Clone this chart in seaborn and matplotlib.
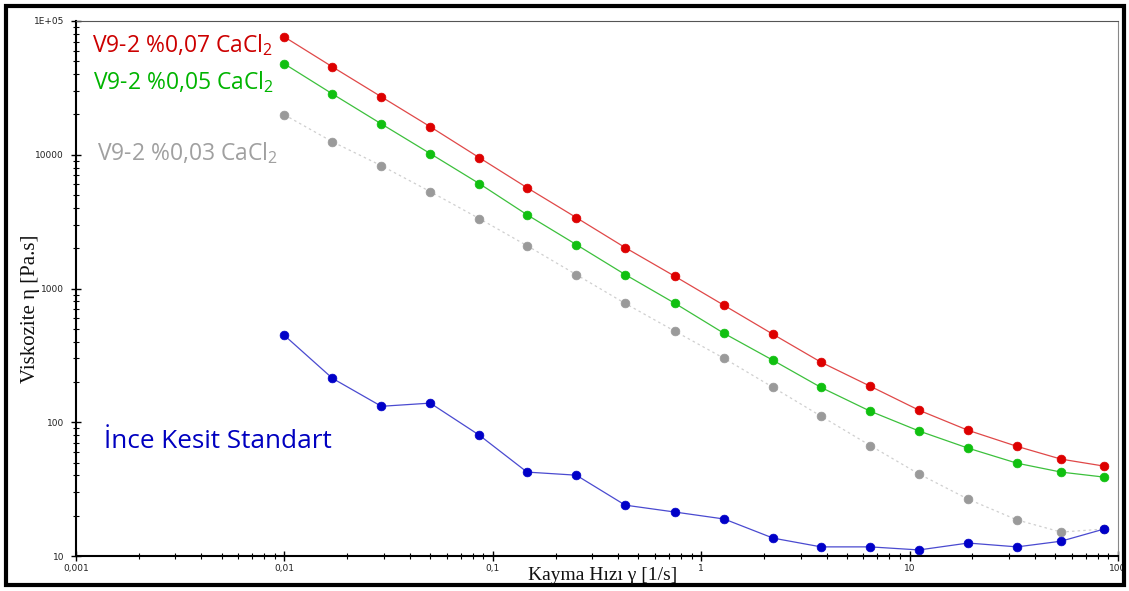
import numpy as np
import pandas as pd
import matplotlib
matplotlib.use("Agg")
import matplotlib.pyplot as plt
import seaborn as sns
from matplotlib.patches import Rectangle
from matplotlib.ticker import FixedLocator, FixedFormatter, NullFormatter

# ---- data ----
shear_rate = [0.01, 0.017, 0.0292, 0.0501, 0.0862, 0.146, 0.2515, 0.432, 0.75,
              1.29, 2.215, 3.76, 6.47, 11.1, 19.1, 32.8, 53.3, 85.7]
visc_007 = [76000, 45400, 27100, 16200, 9500, 5670, 3390, 2020, 1230,
            747, 454, 281, 186, 123, 87, 66, 53, 47]
visc_005 = [47800, 28500, 17000, 10200, 6080, 3560, 2130, 1270, 773,
            461, 290, 182, 121, 86, 64, 49.4, 42.4, 38.9]
visc_003 = [19900, 12500, 8280, 5300, 3330, 2090, 1270, 773, 478,
            300, 182, 111, 67, 41, 26.6, 18.6, 15.1, 15.9]
visc_std = [446, 213, 131.6, 139, 80, 42.4, 40.2, 24, 21.3,
            18.9, 13.6, 11.7, 11.7, 11.1, 12.5, 11.7, 12.9, 15.9]

series_names = ["V9-2 %0,07 CaCl2", "V9-2 %0,05 CaCl2", "V9-2 %0,03 CaCl2", "İnce Kesit Standart"]
x_ticks = [0.001, 0.01, 0.1, 1, 10, 100]
x_tick_labels = ["0,001", "0,01", "0,1", "1", "10", "100"]
y_ticks = [10, 100, 1000, 10000, 100000]
y_tick_labels = ["10", "100", "1000", "10000", "1E+05"]

df = pd.concat([
    pd.DataFrame({"x": shear_rate, "y": v, "series": n})
    for n, v in zip(series_names, [visc_007, visc_005, visc_003, visc_std])
])

sns.set_style("white")
plt.rcParams['font.family'] = ['DejaVu Sans']

W, H = 1129, 591
fig = plt.figure(figsize=(W / 100, H / 100), dpi=100)
L, R, T, B = 76, 1118, 21, 556
ax = fig.add_axes([L / W, 1 - B / H, (R - L) / W, (B - T) / H])

styles = {
    series_names[0]: dict(line="#e04848", mk="#dd0000", ls="-"),
    series_names[1]: dict(line="#3cc03c", mk="#10c010", ls="-"),
    series_names[2]: dict(line="#cfcfcf", mk="#9a9a9a", ls=(0, (2, 2.5))),
    series_names[3]: dict(line="#4a4ad0", mk="#0000c8", ls="-"),
}
for name in series_names:
    st = styles[name]
    sub = df[df["series"] == name]
    sns.lineplot(data=sub, x="x", y="y", ax=ax, color=st["line"], linewidth=0.9,
                 linestyle=st["ls"], marker="o", markersize=6.3,
                 markerfacecolor=st["mk"], markeredgecolor=st["mk"],
                 markeredgewidth=0.5, legend=False, sort=False, estimator=None)

ax.set_xscale("log")
ax.set_yscale("log")
ax.set_xlim(0.001, 100)
ax.set_ylim(10, 100000)

ax.xaxis.set_major_locator(FixedLocator(x_ticks))
ax.xaxis.set_major_formatter(FixedFormatter(x_tick_labels))
ax.yaxis.set_major_locator(FixedLocator(y_ticks))
ax.yaxis.set_major_formatter(FixedFormatter(y_tick_labels))
minor_x = [m * 10.0 ** e for e in range(-3, 2) for m in range(2, 10)]
minor_y = [m * 10.0 ** e for e in range(1, 5) for m in range(2, 10)]
ax.xaxis.set_minor_locator(FixedLocator(minor_x))
ax.yaxis.set_minor_locator(FixedLocator(minor_y))
ax.xaxis.set_minor_formatter(NullFormatter())
ax.yaxis.set_minor_formatter(NullFormatter())

ax.tick_params(axis="both", which="major", direction="inout", length=7, width=1.0,
               labelsize=6.5, labelcolor="#222222", color="black")
ax.tick_params(axis="both", which="minor", direction="inout", length=4, width=0.8, color="black")
ax.tick_params(axis="x", which="both", bottom=True, top=False, pad=2)
ax.tick_params(axis="y", which="both", left=True, right=False, pad=5)

ax.spines["left"].set_color("black")
ax.spines["left"].set_linewidth(1.5)
ax.spines["bottom"].set_color("black")
ax.spines["bottom"].set_linewidth(1.5)
ax.spines["top"].set_color("#555555")
ax.spines["top"].set_linewidth(0.8)
ax.spines["right"].set_color("#888888")
ax.spines["right"].set_linewidth(0.8)

ax.set_xlabel("")
ax.set_ylabel("")

serif = ["Liberation Serif", "DejaVu Serif"]
fig.text(31 / W, 1 - 309 / H, "Viskozite η [Pa.s]", rotation=90, ha="center", va="center",
         fontsize=15, family=serif, color="#111111")
fig.text(603 / W, 1 - 576 / H, "Kayma Hızı γ [1/s]", ha="center", va="center",
         fontsize=14, family=serif, color="#111111")

plt.rcParams['mathtext.fontset'] = 'custom'
plt.rcParams['mathtext.rm'] = 'Open Sans'
lab_font = ["Open Sans", "DejaVu Sans"]

def label(x, y, text, color):
    fig.text(x / W, 1 - y / H, text + r"$_\mathrm{2}$", ha="left", va="center",
             fontsize=16.5, family=lab_font, color=color)

label(92, 45, "V9-2 %0,07 CaCl", "#cc0000")
label(93, 82, "V9-2 %0,05 CaCl", "#00b400")
label(97, 153, "V9-2 %0,03 CaCl", "#a0a0a0")
fig.text(104 / W, 1 - 441 / H, "İnce Kesit Standart", ha="left", va="center",
         fontsize=18.8, family=lab_font, color="#0000c0")

fig.patches.append(Rectangle((6 / W, 6 / H), (W - 11) / W, (H - 12) / H,
                             transform=fig.transFigure, fill=False,
                             edgecolor="black", linewidth=3))

fig.savefig("out.png", dpi=100, facecolor="white")
